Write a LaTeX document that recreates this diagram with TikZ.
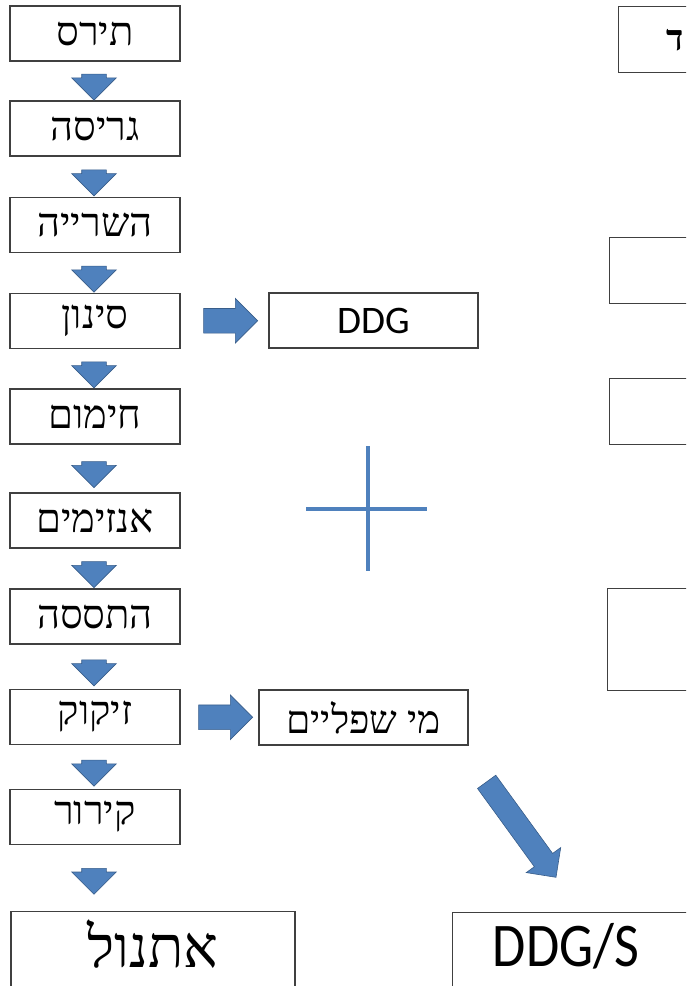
\documentclass[tikz,border=0pt]{standalone}
\usepackage{fontspec}
\setmainfont{Liberation Serif}
\newfontfamily\hebfont[Script=Hebrew]{Liberation Serif}
\newfontfamily\latfont{Carlito}
\TeXXeTstate=1
\usetikzlibrary{shapes.arrows,calc}
\definecolor{arrowblue}{RGB}{79,129,189}
\definecolor{arrowedge}{RGB}{56,93,138}
\newcommand{\heb}[1]{{\hebfont\beginR #1\endR}}
\tikzset{
  stage/.style={draw=black!75,line width=1.3pt,minimum width=170,minimum height=55,inner sep=0pt,
    font=\fontsize{40}{40}\selectfont},
  bigbox/.style={stage,minimum width=284,minimum height=110},
  sidebox/.style={stage,minimum width=209},
  blockarr/.style={single arrow,fill=arrowblue,draw=arrowedge,line width=.6pt,inner xsep=0pt,
    inner ysep=12pt,single arrow head extend=10pt},
  downarr/.style={blockarr,rotate=-90,minimum height=26},
  rightarr/.style={blockarr,minimum height=54}
}
\begin{document}
\begin{tikzpicture}[x=1pt,y=-1pt]
\useasboundingbox (0,0) rectangle (686,986);
\clip (0,0) rectangle (686,986);
% main column
\foreach \nm/\y/\txt in {tirs/33.5/תירס,grisa/128.5/גריסה,hashraya/225/השרייה,sinun/321/סינון,
    himum/416.5/חימום,enzim/520.5/אנזימים,tassa/616.5/התססה,zikuk/717/זיקוק,kirur/817/קירור}
  \node[stage] (\nm) at (95,\y) {\heb{\txt}};
\node[bigbox,anchor=north] (etanol) at (153,911) {};
\node[font=\fontsize{58}{58}\selectfont] (etanoltxt) at (153,944) {\heb{אתנול}};
\foreach \a/\b in {tirs/grisa,grisa/hashraya,hashraya/sinun,sinun/himum,himum/enzim,
    enzim/tassa,tassa/zikuk,zikuk/kirur}
  \node[downarr] (to-\b) at ($(\a.south)!.5!(\b.north)+(-1,0)$) {};
\node[downarr] (to-etanol) at ($(kirur.south)+(-1,30)$) {};
% side products
\node[sidebox,font=\latfont\fontsize{39}{39}\selectfont] (ddg) at (373.5,320.5) {DDG};
\node[sidebox,font=\fontsize{39}{39}\selectfont] (mishp) at (363.5,717.5) {\heb{מי שפליים}};
\node[rightarr] (to-ddg) at ($(sinun.east)!.5!(ddg.west)$) {};
\node[rightarr] (to-mishp) at ($(zikuk.east)!.5!(mishp.west)$) {};
\node[blockarr,inner ysep=11pt,minimum height=118,rotate=-54] (to-ddgs) at (518,825) {};
\node[stage,anchor=north west,minimum width=300,minimum height=110] (ddgs) at (452,912) {};
\node[font=\latfont\fontsize{54}{54}\selectfont] (ddgstxt) at (566,946) {\scalebox{1}[1.15]{DDG/S}};
% cross
\draw[arrowblue,line width=4pt] (368,446) -- (368,571) (306,509) -- (427,509);
% cut-off boxes on the right
\node[stage,anchor=north west,minimum width=120,minimum height=66] (rbox1) at (618,6) {};
\node[anchor=west,font=\hebfont\bfseries\fontsize{36}{36}\selectfont,inner sep=0pt] (rtxt1) at (666,40) {ד};
\node[stage,anchor=north west,minimum width=120,minimum height=66] (rbox2) at (609,237) {};
\node[stage,anchor=north west,minimum width=120,minimum height=66] (rbox3) at (609,378) {};
\node[stage,anchor=north west,minimum width=120,minimum height=102] (rbox4) at (607,588) {};
\end{tikzpicture}
\end{document}
